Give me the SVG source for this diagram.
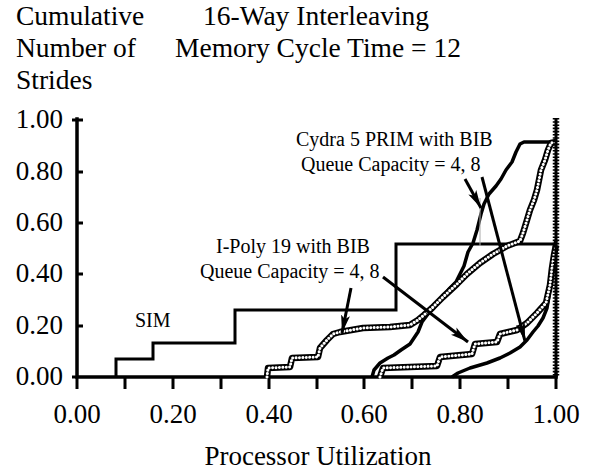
<svg xmlns="http://www.w3.org/2000/svg" width="589" height="472" viewBox="0 0 589 472">
<style>
text{font-family:"Liberation Serif","Times New Roman",serif;fill:#000}
.big{font-size:27px}
.ttl{font-size:27.5px}
.lbl{font-size:20px}
.ax{stroke:#000;stroke-width:3.5;fill:none;stroke-linecap:square}
.tk{stroke:#000;stroke-width:3;fill:none}
.sim{stroke:#000;stroke-width:3;fill:none;stroke-linejoin:miter}
.sol{stroke:#000;stroke-width:3.5;fill:none;stroke-linejoin:round}
.hb{stroke:#000;stroke-width:6.5;fill:none;stroke-linejoin:round}
.hw{stroke:#fff;stroke-width:3;fill:none;stroke-dasharray:0.01 3.4;stroke-linecap:round;stroke-linejoin:round}
.arr{stroke:#000;stroke-width:3;fill:none}
</style>
<defs>
<marker id="ah" markerUnits="userSpaceOnUse" markerWidth="20" markerHeight="10" refX="18" refY="5" orient="auto">
<path d="M0,0.5 L18,5 L0,9.5 L4,5 z" fill="#000"/>
</marker>
</defs>
<rect width="589" height="472" fill="#fff"/>
<g id="titles">
<text class="ttl" x="16" y="25">Cumulative</text>
<text class="ttl" x="16" y="57">Number of</text>
<text class="ttl" x="16" y="89">Strides</text>
<text class="ttl" x="203" y="25">16-Way Interleaving</text>
<text class="ttl" x="175" y="57">Memory Cycle Time = 12</text>
</g>
<g id="y-labels" text-anchor="end">
<text class="big" x="63" y="128">1.00</text>
<text class="big" x="63" y="180">0.80</text>
<text class="big" x="63" y="231">0.60</text>
<text class="big" x="63" y="282">0.40</text>
<text class="big" x="63" y="334">0.20</text>
<text class="big" x="63" y="385">0.00</text>
</g>
<g id="x-labels" text-anchor="middle">
<text class="big" x="77" y="423">0.00</text>
<text class="big" x="173" y="423">0.20</text>
<text class="big" x="269" y="423">0.40</text>
<text class="big" x="364" y="423">0.60</text>
<text class="big" x="460" y="423">0.80</text>
<text class="big" x="556" y="423">1.00</text>
<text class="big" x="318" y="465">Processor Utilization</text>
</g>
<g id="axes">
<path class="ax" d="M77,119 V377 H556"/>
<path class="tk" d="M72,120 H83 M77,172 H83 M77,223 H83 M77,274 H83 M77,326 H83 M72,377 H77"/>
<path class="tk" d="M77,377 V389 M125,377 V389 M173,377 V389 M221,377 V389 M269,377 V389 M317,377 V389 M364,377 V389 M412,377 V389 M460,377 V389 M508,377 V389 M556,372 V389"/>
</g>
<g id="sim-curve">
<path class="sim" d="M116,377 V359 H153 V343 H235 V310 H396 V244 H556"/>
<text class="lbl" x="135" y="327">SIM</text>
</g>
<g id="cydra-curves">
<path class="sol" d="M372,377 L374,370 L380,363 L388,358 L394,355 L401,350 L410,344 L414,338 L418,332 L422,322 L428,314 L434,308 L441,299 L449,289 L456,282 L460,274 L464,266 L468,252 L473,243 L477,230 L481,214 L484,204 L489,194 L496,186 L501,179 L506,170 L512,162 L516,152 L520,144 L524,142 L556,142"/>
<path class="sol" d="M452,377 L458,373 L470,368 L487,363 L500,358 L510,353 L520,347 L527,340 L533,332 L538,326 L543,318 L547,308 L549,296 L551,280 L553,262 L555,245 L556,240"/>
</g>
<g id="ipoly-curves">
<path class="hb" d="M380,377 L383,368 L437,366 L440,357 L472,354 L475,344 L497,342 L500,334 L517,330 L527,323 L537,313 L546,303 L550,285 L552,268 L554,255 L556,245"/>
<path class="hw" d="M380,377 L383,368 L437,366 L440,357 L472,354 L475,344 L497,342 L500,334 L517,330 L527,323 L537,313 L546,303 L550,285 L552,268 L554,255 L556,245"/>
<path class="hb" d="M267,377 L268,368 L290,367 L292,358 L318,357 L320,348 L327,340 L333,334 L340,332 L363,328 L390,327 L410,325 L418,320 L424,315 L432,308 L443,297 L457,284 L467,274 L480,263 L493,254 L507,246 L520,241 L523,233 L527,220 L530,210 L534,200 L537,190 L539,180 L541,170 L545,160 L548,150 L551,143 L556,142"/>
<path class="hw" d="M267,377 L268,368 L290,367 L292,358 L318,357 L320,348 L327,340 L333,334 L340,332 L363,328 L390,327 L410,325 L418,320 L424,315 L432,308 L443,297 L457,284 L467,274 L480,263 L493,254 L507,246 L520,241 L523,233 L527,220 L530,210 L534,200 L537,190 L539,180 L541,170 L545,160 L548,150 L551,143 L556,142"/>
</g>
<g id="right-edge">
<path d="M556,118 V377" stroke="#000" stroke-width="3" fill="none"/>
<path d="M556,118 V377" stroke="#000" stroke-width="6.5" stroke-dasharray="1.6 1.6" fill="none"/>
</g>
<g id="connectors">
<path d="M480,198 V246" stroke="#aaa" stroke-width="1" fill="none"/>
<path class="arr" d="M351,288 L342,333" marker-end="url(#ah)"/>
<path class="arr" d="M383,277 L468,342" marker-end="url(#ah)"/>
<path class="arr" d="M465,179 L481,208" marker-end="url(#ah)"/>
<path class="arr" d="M482,177 L525,341" marker-end="url(#ah)"/>
</g>
<g id="cydra-label">
<text class="lbl" x="296" y="146">Cydra 5 PRIM with BIB</text>
<text class="lbl" x="301" y="171">Queue Capacity = 4, 8</text>
</g>
<g id="ipoly-label">
<text class="lbl" x="216" y="253">I-Poly 19 with BIB</text>
<text class="lbl" x="200" y="278">Queue Capacity = 4, 8</text>
</g>
</svg>
